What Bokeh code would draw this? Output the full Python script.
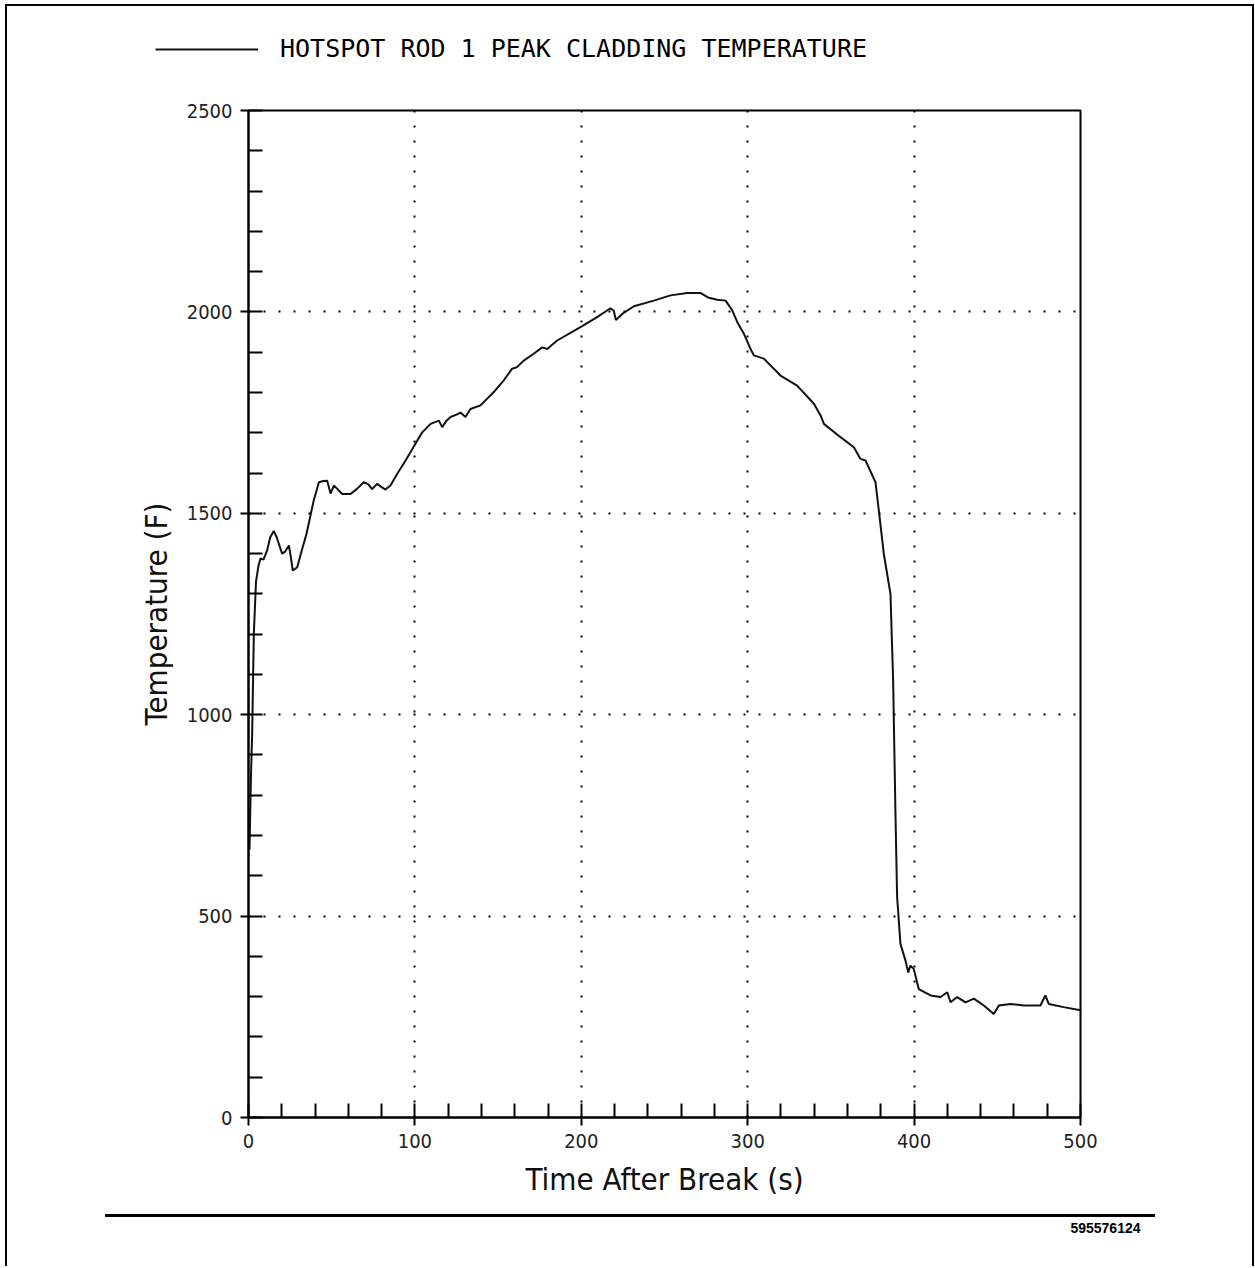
from bokeh.plotting import figure
from bokeh.models import Range1d, Legend, LegendItem, FixedTicker, Title
from bokeh.layouts import column
from bokeh.embed import file_html
from bokeh.resources import INLINE

# ---- data ----
time_s = [0.6, 1.5, 2.2, 3.2, 4.5, 6, 7.2, 9, 11.2, 13, 15.2, 17, 20.2, 22, 24.3,
          25.5, 26.6, 29.3, 31.5, 34.9, 39.2, 42.3, 45, 47.3, 49.3, 51.3, 53.5,
          56.3, 61.3, 65, 69.3, 72, 74.3, 77.3, 80, 82.3, 85.3, 89.4, 94.4,
          100.4, 104.4, 109.4, 114.4, 116.4, 119, 121.4, 125, 127.4, 130.4,
          133.4, 139.4, 147.4, 153.4, 158.4, 161.4, 165.4, 171.4, 176.5, 179.5,
          185.5, 199.5, 209.5, 217.5, 219.5, 220.8, 224.6, 231.6, 243.6, 253.6,
          263.6, 271.6, 276.6, 281.7, 286.7, 290.7, 293.7, 297.7, 301.7, 303.7,
          309.7, 319.7, 329.7, 339.8, 343.8, 345.8, 355.8, 363.8, 367.8, 370.8,
          376.8, 378.8, 381.8, 385.8, 387.4, 388.8, 389.8, 391.8, 394.8, 396.5,
          397.8, 399.8, 402.8, 409.9, 415.9, 419.9, 421.9, 425.9, 430.9, 435.9,
          441.9, 447.9, 450.9, 457.9, 465.9, 475.9, 478.9, 480.9, 489.9, 500]
temp_f = [665, 850, 953, 1200, 1330, 1370, 1388, 1385, 1408, 1440, 1456, 1440,
          1400, 1405, 1420, 1390, 1358, 1366, 1400, 1450, 1532, 1577, 1580,
          1581, 1549, 1569, 1560, 1548, 1548, 1560, 1577, 1572, 1560, 1573,
          1565, 1559, 1569, 1598, 1631, 1673, 1701, 1722, 1730, 1714, 1730,
          1739, 1745, 1750, 1739, 1759, 1768, 1801, 1830, 1859, 1863, 1879,
          1896, 1912, 1908, 1929, 1962, 1987, 2009, 2003, 1980, 1995, 2014,
          2028, 2041, 2047, 2047, 2035, 2030, 2028, 2004, 1975, 1946, 1908,
          1892, 1884, 1842, 1817, 1772, 1743, 1722, 1689, 1664, 1635, 1631,
          1577, 1507, 1399, 1300, 1085, 754, 547, 431, 390, 360, 377, 369, 319,
          303, 299, 311, 286, 299, 286, 295, 278, 257, 278, 282, 278, 278, 303,
          282, 274, 266]

x_major = [0, 100, 200, 300, 400, 500]
x_minor = list(range(0, 501, 20))
y_major = [0, 500, 1000, 1500, 2000, 2500]
y_minor = list(range(0, 2501, 100))

series_label = "HOTSPOT ROD 1 PEAK CLADDING TEMPERATURE"
x_title = "Time After Break (s)"
y_title = "Temperature (F)"
doc_id = "595576124"

W = 1255
STRIP_H = 96
MAIN_H = 1170
LINE_COLOR = "#111111"

# ---- legend strip above the chart (same series, drawn outside its view so
#      that only the legend entry shows) ----
strip = figure(width=W, height=STRIP_H, output_backend="svg",
               toolbar_location=None, x_axis_location=None,
               y_axis_location=None, x_range=Range1d(0, 500),
               y_range=Range1d(5000, 6000), min_border_left=155,
               min_border_top=34, min_border_right=0, min_border_bottom=0)
strip.frame_align = False
strip.grid.visible = False
strip.outline_line_color = None
strip.background_fill_alpha = 0
strip.border_fill_alpha = 0
sample = strip.line(time_s, temp_f, line_color=LINE_COLOR, line_width=2)
legend = Legend(items=[LegendItem(label=series_label, renderers=[sample])],
                location="top_left", orientation="horizontal",
                padding=0, margin=0, border_line_alpha=0,
                background_fill_alpha=0, glyph_width=103, glyph_height=20,
                label_height=20, label_standoff=22,
                label_text_font="DejaVu Sans Mono",
                label_text_font_size="25px", label_text_color="black")
strip.add_layout(legend)

# ---- main chart ----
p = figure(width=W, height=MAIN_H, output_backend="svg", toolbar_location=None,
           x_range=Range1d(0, 500), y_range=Range1d(0, 2500),
           min_border_left=248, min_border_right=175,
           min_border_top=14, min_border_bottom=149)
p.frame_align = False
p.background_fill_color = "white"
p.border_fill_alpha = 0
p.outline_line_color = "black"
p.outline_line_width = 2
p.outline_line_alpha = 1

TICK_FONT = "DejaVu Sans Condensed"

for ax, major, minor, title in ((p.xaxis[0], x_major, x_minor, x_title),
                                (p.yaxis[0], y_major, y_minor, y_title)):
    ax.ticker = FixedTicker(ticks=major, minor_ticks=minor)
    ax.axis_line_color = "black"
    ax.axis_line_width = 2
    ax.major_tick_line_color = "black"
    ax.major_tick_line_width = 2
    ax.major_tick_in = 0
    ax.major_tick_out = 8
    ax.minor_tick_line_color = "black"
    ax.minor_tick_line_width = 2
    ax.minor_tick_in = 14
    ax.minor_tick_out = 0
    ax.major_label_text_font = TICK_FONT
    ax.major_label_text_font_size = "20px"
    ax.major_label_text_color = "#222222"
    ax.major_label_standoff = 8
    ax.axis_label = title
    ax.axis_label_text_font = TICK_FONT
    ax.axis_label_text_font_size = "31px"
    ax.axis_label_text_font_style = "normal"
    ax.axis_label_text_color = "#111111"
    ax.axis_label_standoff = 10

for g in (p.xgrid[0], p.ygrid[0]):
    g.grid_line_color = "black"
    g.grid_line_width = 2
    g.grid_line_dash = "2 13"
    g.grid_line_alpha = 1

p.line(time_s, temp_f, line_color=LINE_COLOR, line_width=2)

id_title = Title(text=doc_id, align="right", offset=-60, standoff=42,
                 text_font="Liberation Sans", text_font_style="bold",
                 text_font_size="14px", text_color="black")
p.add_layout(id_title, "below")

# page decoration: outer page frame (three sides) and the rule above the id
bar = "linear-gradient(#000,#000)"
page = column(strip, p, spacing=0, styles={
    "background": (f"{bar} 5px 4px / 2px 1400px no-repeat, "
                   f"{bar} 5px 4px / 1249px 2px no-repeat, "
                   f"{bar} 1252px 4px / 2px 1400px no-repeat, "
                   f"{bar} 105px 1214px / 1050px 3px no-repeat, white"),
})

open("out.html", "w").write(file_html(page, INLINE))
